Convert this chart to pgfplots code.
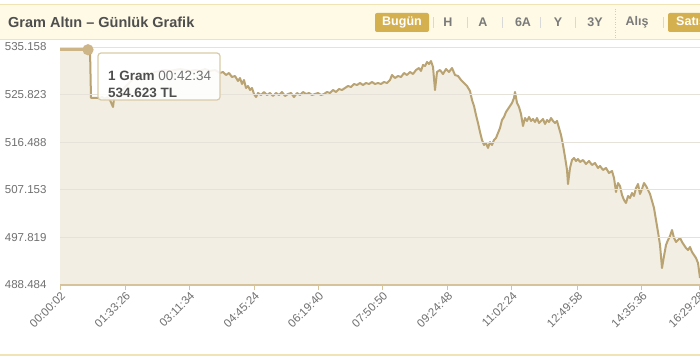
\documentclass[border=0pt]{standalone}
\usepackage{pgfplots}
\usepackage{pgfplotstable}
\pgfplotsset{compat=1.18}
\usepackage{fontspec}
\setmainfont{Liberation Sans}
\definecolor{beige}{HTML}{F3EEE3}
\definecolor{goldline}{HTML}{B9A372}
\definecolor{hover}{HTML}{CDB587}
\definecolor{gridc}{HTML}{E6E2DA}
\definecolor{axisc}{HTML}{D6C39B}
\definecolor{labc}{HTML}{707070}
\definecolor{titlec}{HTML}{4E4E4E}
\definecolor{band}{HTML}{FEFAE6}
\definecolor{bandline}{HTML}{F0E3B4}
\definecolor{btn}{HTML}{D4B04F}
\definecolor{btntext}{HTML}{7A7A7A}
\definecolor{tipb}{HTML}{D9CBA6}

\pgfplotstableread{
x y
0 534.62
28 534.62
30 534.62
31 525.16
36 525.16
40 525.16
42 525.35
45 524.96
47 525.35
50 524.76
53 523.39
54 524.96
57 525.55
60 526.33
64 527.12
68 527.90
72 528.69
76 529.27
80 529.86
85 530.06
90 529.86
95 530.26
100 530.45
105 530.65
110 530.45
115 530.65
120 530.84
125 530.65
130 530.45
135 530.65
140 530.45
145 530.84
150 530.45
155 530.65
160 530.06
163 530.26
166 529.67
169 530.06
172 529.27
175 529.47
178 528.49
180 529.08
182 527.90
184 528.69
186 527.12
188 527.51
190 526.73
192 527.12
194 525.94
196 525.35
198 526.14
201 525.74
204 526.33
207 525.74
210 526.14
213 525.55
216 526.14
219 525.74
222 526.33
225 525.55
228 525.94
231 526.14
234 525.35
237 526.14
240 525.74
243 526.33
246 525.94
249 526.14
252 525.74
255 525.94
258 526.14
261 525.74
264 525.94
267 526.33
270 526.14
273 526.73
276 526.33
279 526.92
282 526.73
285 527.12
288 527.51
291 527.31
294 527.90
297 527.71
300 528.10
303 527.71
306 528.10
309 527.90
312 528.29
315 527.90
318 528.10
321 527.90
324 528.29
327 528.10
330 528.69
332 529.67
335 529.08
338 529.47
341 529.27
344 530.06
347 529.67
350 530.26
353 529.86
356 530.65
359 531.04
361 530.45
363 531.63
365 531.43
367 532.22
369 531.82
371 532.41
373 531.24
375 526.73
377 530.26
380 530.65
383 529.86
386 530.84
389 530.26
392 531.04
395 529.67
398 529.47
401 528.69
404 528.10
407 527.51
410 526.53
412 524.76
414 523.59
416 521.82
418 520.25
420 518.49
422 516.92
424 515.94
426 516.33
428 515.35
430 516.53
432 515.94
434 516.92
436 517.31
438 518.29
440 519.27
442 520.84
444 521.43
446 522.41
448 523.00
450 523.59
452 524.18
454 525.16
455 526.33
457 524.18
459 523.39
461 522.02
463 519.67
465 521.23
467 520.65
469 521.43
471 520.65
473 521.04
475 520.45
477 521.23
479 520.25
481 520.65
483 521.04
485 520.06
487 520.84
489 520.45
491 521.23
493 520.65
495 520.25
497 520.65
499 519.27
501 517.90
503 515.94
505 513.59
507 511.04
508 508.29
510 511.43
512 513.00
514 513.39
516 512.80
518 513.19
520 512.61
523 513.00
526 512.21
529 512.80
532 512.02
535 512.41
538 511.43
540 511.82
543 511.04
546 511.43
549 510.45
552 510.84
554 509.47
556 506.72
558 508.49
560 507.90
562 506.13
564 505.15
566 504.57
568 505.94
570 505.55
572 506.53
574 505.94
576 507.51
578 508.29
580 506.33
582 507.31
584 508.49
586 507.90
588 507.11
590 506.33
592 504.96
594 503.58
596 501.23
598 498.88
600 496.33
602 491.82
604 494.17
606 496.33
608 497.31
610 498.09
612 499.27
614 497.70
616 496.92
618 497.31
620 497.70
622 496.92
624 496.33
626 495.74
628 495.35
630 495.94
632 494.96
634 494.37
636 493.78
638 492.80
640 489.86
}\goldData

\begin{document}
\begin{tikzpicture}[x=1pt,y=1pt]
\clip (0,0) rectangle (700,357);
\fill[white] (0,0) rectangle (700,357);
% header band
\fill[band] (0,317) rectangle (700,352);
\draw[bandline, line width=1pt] (0,352) -- (700,352);
\draw[bandline, line width=1pt] (0,317) -- (700,317);
\node[anchor=west, text=titlec, font=\fontsize{14.5}{16}\selectfont\bfseries, inner sep=0pt] at (8,335) {Gram Altın – Günlük Grafik};
\fill[btn, rounded corners=2pt] (375,325) rectangle (429,344);
\node[text=white, font=\fontsize{12.5}{14}\selectfont\bfseries] at (402,334.5) {Bugün};
\foreach \xx/\tt in {448/H,483/A,523/6A,558/Y,595/3Y,637/Alış}
  \node[text=btntext, font=\fontsize{12.5}{14}\selectfont\bfseries] at (\xx,334.5) {\tt};
\foreach \xx in {433,467,502,540,575,663}
  \draw[gray!30, line width=0.6pt] (\xx,329) -- (\xx,340);
\draw[gray!40, dotted, line width=0.6pt] (615,319) -- (615,350);
\fill[btn, rounded corners=2pt] (668,325) rectangle (712,344);
\node[anchor=west, text=white, font=\fontsize{12.5}{14}\selectfont\bfseries, inner sep=0pt] at (676,334.5) {Satış};
% bottom border
\draw[bandline, line width=1.5pt] (0,2) -- (700,2);

\begin{axis}[
  at={(60pt,72pt)}, anchor=south west,
  scale only axis, width=640pt, height=238pt,
  xmin=0, xmax=640, ymin=488.484, ymax=535.158,
  axis on top,
  axis x line*=bottom, axis y line*=left,
  x axis line style={draw=axisc, line width=1.5pt, -},
  y axis line style={draw=none},
  ytick={488.484,497.819,507.153,516.488,525.823,535.158},
  yticklabels={488.484,497.819,507.153,516.488,525.823,535.158},
  ymajorgrids, grid style={gridc, line width=0.8pt},
  ytick style={draw=none},
  xtick={0,65,129.3,194,258.3,322.3,387.3,451.7,517.3,581.7,639},
  xticklabels={00:00:02,01:33:26,03:11:34,04:45:24,06:19:40,07:50:50,09:24:48,11:02:24,12:49:58,14:35:36,16:29:28},
  tick align=outside, major tick length=5pt,
  xtick style={draw=axisc, line width=1pt},
  yticklabel style={font=\fontsize{11.5}{13}\selectfont, text=labc, xshift=-5pt},
  xticklabel style={font=\fontsize{11.5}{13}\selectfont, text=labc, rotate=45, anchor=east, yshift=-5pt, xshift=3pt},
  clip=true,
]
\addplot[fill=beige, draw=none] table {\goldData} \closedcycle;
\addplot[goldline, line width=2pt, line join=round] table {\goldData};
\addplot[hover, line width=3pt, mark=*, mark indices={2}, mark size=4pt, mark options={fill=hover, draw=hover}] coordinates {(0,534.62) (28,534.62)};
\end{axis}

% tooltip
\draw[tipb, line width=1.2pt, fill=white, fill opacity=0.9, rounded corners=3pt] (98,257) rectangle (220,304);
\node[anchor=base west, inner sep=0pt, font=\fontsize{13.5}{15}\selectfont, text=titlec] at (108,277) {\textbf{1 Gram} {\color{labc}00:42:34}};
\node[anchor=base west, inner sep=0pt, font=\fontsize{13.5}{15}\selectfont\bfseries, text=titlec] at (108,259.5) {534.623 TL};
\end{tikzpicture}
\end{document}
